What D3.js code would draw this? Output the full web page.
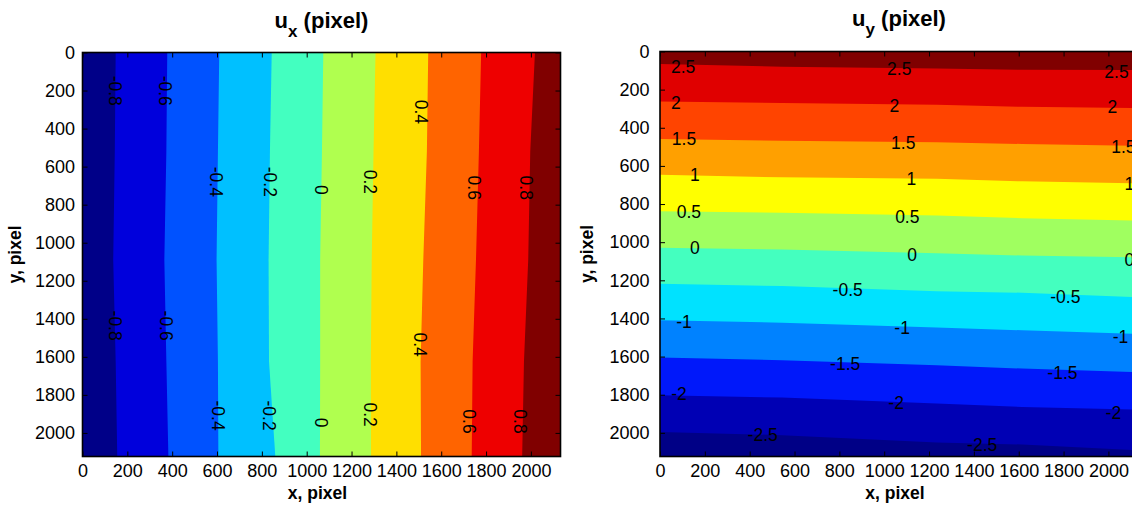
<!DOCTYPE html>
<html>
<head>
<meta charset="utf-8">
<script src="https://cdn.jsdelivr.net/npm/d3@7"></script>
<style>
  body { margin: 0; background: #fff; }
  svg { display: block; font-family: "Liberation Sans", Arial, Helvetica, sans-serif; }
</style>
</head>
<body>
<div id="chart"></div>
<script>
// image size in pixels (both maps)
var xMax = 2132, yMax = 2124;
var tickValues = [0, 200, 400, 600, 800, 1000, 1200, 1400, 1600, 1800, 2000];

// u_x : contour levels, rows where the level lines were read, x of each line at those rows
var uxLevels = [-0.8, -0.6, -0.4, -0.2, 0, 0.2, 0.4, 0.6, 0.8];
var uxRows = [0, 522, 1089, 1625, 2124];
var uxLineX = [
    [148, 144, 137, 148, 155],
    [378, 374, 365, 374, 383],
    [610, 604, 598, 604, 606],
    [844, 836, 830, 832, 860],
    [1074, 1068, 1060, 1060, 1059],
    [1307, 1298, 1290, 1286, 1287],
    [1542, 1536, 1520, 1508, 1510],
    [1778, 1768, 1755, 1740, 1736],
    [2018, 1997, 1988, 1969, 1961]
];
// contour labels: [level, x, y]
var uxLabels = [
    [-0.8, 145, 201], [-0.6, 368, 201], [-0.4, 598, 680], [-0.2, 836, 680], [0, 1067, 722],
    [0.2, 1282, 680], [0.4, 1513, 312], [0.6, 1746, 711], [0.8, 1978, 711],
    [-0.8, 145, 1436], [-0.6, 375, 1436], [-0.4, 606, 1909], [-0.2, 833, 1909], [0, 1064, 1946],
    [0.2, 1282, 1904], [0.4, 1508, 1536], [0.6, 1725, 1940], [0.8, 1954, 1940]
];

// u_y : contour levels, columns where the level lines were read, y of each line at those columns
var uyLevels = [-2.5, -2, -1.5, -1, -0.5, 0, 0.5, 1, 1.5, 2, 2.5];
var uyCols = [0, 545, 1235, 1616, 2132];
var uyLineY = [
    [1995, 2012, 2050, 2061, 2092],
    [1803, 1815, 1846, 1864, 1878],
    [1605, 1619, 1646, 1663, 1682],
    [1410, 1422, 1448, 1462, 1481],
    [1218, 1230, 1257, 1265, 1289],
    [1029, 1038, 1058, 1070, 1080],
    [838, 846, 860, 874, 887],
    [647, 660, 668, 681, 692],
    [459, 468, 476, 485, 495],
    [262, 270, 279, 290, 297],
    [66, 80, 89, 96, 97]
];
var uyLabels = [
    [2.5, 103, 80], [2.5, 1067, 91], [2.5, 2036, 106],
    [2, 71, 269], [2, 1045, 284], [2, 2018, 290],
    [1.5, 107, 457], [1.5, 1085, 478], [1.5, 2067, 499],
    [1, 156, 646], [1, 1121, 666], [1, 2094, 693],
    [0.5, 129, 839], [0.5, 1103, 865],
    [0, 156, 1028], [0, 1125, 1064], [0, 2094, 1091],
    [-0.5, 837, 1248], [-0.5, 1808, 1284],
    [-1, 107, 1415], [-1, 1080, 1449], [-1, 2054, 1494],
    [-1.5, 826, 1635], [-1.5, 1795, 1682],
    [-2, 85, 1797], [-2, 1053, 1842], [-2, 2022, 1894],
    [-2.5, 458, 2012], [-2.5, 1437, 2064]
];

// band colours (jet-like), lowest band first
var uxColors = ["#000088", "#0000dc", "#0052ff", "#00c0ff", "#43ffc0",
                "#b0ff4f", "#ffdf00", "#ff6400", "#ee0000", "#800000"];
var uyColors = ["#000086", "#0000b4", "#0018fa", "#0082ff", "#00e2ff", "#44ffbf",
                "#a0ff60", "#ffff00", "#ffa000", "#ff4400", "#e00000", "#800000"];

var W = 1132, H = 505;
var svg = d3.select("#chart").append("svg")
    .attr("width", W)
    .attr("height", H);

function drawPanel(opt) {
    var x = d3.scaleLinear().domain([0, xMax]).range([opt.left, opt.right]);
    var y = d3.scaleLinear().domain([0, yMax]).range([opt.top, opt.bottom]);
    var g = svg.append("g");

    var clipId = "clip" + opt.id;
    g.append("clipPath").attr("id", clipId)
        .append("rect")
        .attr("x", x(0)).attr("y", y(0))
        .attr("width", x(xMax) - x(0)).attr("height", y(yMax) - y(0));

    var fills = g.append("g").attr("clip-path", "url(#" + clipId + ")");
    fills.append("rect")
        .attr("x", x(0)).attr("y", y(0))
        .attr("width", x(xMax) - x(0)).attr("height", y(yMax) - y(0))
        .attr("fill", opt.colors[0]);

    opt.drawBands(fills, x, y);

    // contour labels
    g.append("g").selectAll("text")
        .data(opt.labels)
        .enter().append("text")
        .attr("transform", d => "translate(" + x(d[1]) + "," + y(d[2]) + ")" + (opt.rotateLabels ? " rotate(90)" : ""))
        .attr("text-anchor", "middle")
        .attr("dy", "0.36em")
        .attr("font-size", 17.5)
        .attr("fill", "#000")
        .text(d => String(d[0]));

    // axes with inward ticks
    var fmt = d3.format("d");
    var bottom = g.append("g")
        .attr("transform", "translate(0," + y(yMax) + ")")
        .call(d3.axisBottom(x).tickValues(tickValues).tickFormat(fmt)
            .tickSizeInner(-5).tickSizeOuter(0).tickPadding(8));
    var left = g.append("g")
        .attr("transform", "translate(" + x(0) + ",0)")
        .call(d3.axisLeft(y).tickValues(tickValues).tickFormat(fmt)
            .tickSizeInner(-5).tickSizeOuter(0).tickPadding(opt.yPad));
    var top = g.append("g")
        .attr("transform", "translate(0," + y(0) + ")")
        .call(d3.axisTop(x).tickValues(tickValues).tickSizeInner(-5).tickSizeOuter(0).tickFormat(""));
    var right = g.append("g")
        .attr("transform", "translate(" + x(xMax) + ",0)")
        .call(d3.axisRight(y).tickValues(tickValues).tickSizeInner(-5).tickSizeOuter(0).tickFormat(""));

    [bottom, left, top, right].forEach(a => {
        a.select(".domain").remove();
        a.attr("font-family", null).attr("font-size", null);
        a.selectAll(".tick line").attr("stroke", "#000").attr("stroke-width", 1);
        a.selectAll(".tick text").attr("font-size", 18).attr("fill", "#000");
    });

    g.append("rect")
        .attr("x", x(0)).attr("y", y(0))
        .attr("width", x(xMax) - x(0)).attr("height", y(yMax) - y(0))
        .attr("fill", "none")
        .attr("stroke", "#000")
        .attr("stroke-width", 1.6);

    // title with subscript
    var t = g.append("text")
        .attr("x", (opt.left + opt.right) / 2)
        .attr("y", opt.titleY)
        .attr("text-anchor", "middle")
        .attr("font-weight", "bold")
        .attr("font-size", 22);
    t.append("tspan").text("u");
    t.append("tspan").attr("font-size", 17).attr("dy", 9).text(opt.sub);
    t.append("tspan").attr("dy", -9).text(" (pixel)");

    g.append("text")
        .attr("x", (opt.left + opt.right) / 2 - 4)
        .attr("y", 499)
        .attr("text-anchor", "middle")
        .attr("font-weight", "bold")
        .attr("font-size", 17.5)
        .text("x, pixel");

    g.append("text")
        .attr("transform", "translate(" + opt.yLabelX + "," + (y(0) + y(yMax)) / 2 + ") rotate(-90)")
        .attr("text-anchor", "middle")
        .attr("font-weight", "bold")
        .attr("font-size", 17.5)
        .text("y, pixel");
}

// left map: vertical bands, region u_x >= level lies to the right of each line
drawPanel({
    id: "ux", left: 82.5, right: 560.5, top: 52.5, bottom: 456.5,
    colors: uxColors, labels: uxLabels, rotateLabels: true,
    yPad: 7.5, titleY: 28, sub: "x", yLabelX: 21,
    drawBands: function (g, x, y) {
        uxLevels.forEach(function (lev, i) {
            var pts = uxRows.map((r, j) => ({ y: r, x: uxLineX[i][j] }));
            var area = d3.area()
                .y(d => y(d.y))
                .x0(d => x(d.x))
                .x1(x(xMax));
            g.append("path")
                .datum(pts)
                .attr("d", area)
                .attr("fill", uxColors[i + 1]);
        });
    }
});

// right map: horizontal bands, region u_y >= level lies above each line
drawPanel({
    id: "uy", left: 660, right: 1138, top: 51.5, bottom: 456.5,
    colors: uyColors, labels: uyLabels, rotateLabels: false,
    yPad: 10.5, titleY: 25.5, sub: "y", yLabelX: 593,
    drawBands: function (g, x, y) {
        uyLevels.forEach(function (lev, i) {
            var pts = uyCols.map((c, j) => ({ x: c, y: uyLineY[i][j] }));
            var area = d3.area()
                .x(d => x(d.x))
                .y0(y(0))
                .y1(d => y(d.y));
            g.append("path")
                .datum(pts)
                .attr("d", area)
                .attr("fill", uyColors[i + 1]);
        });
    }
});
</script>
</body>
</html>
